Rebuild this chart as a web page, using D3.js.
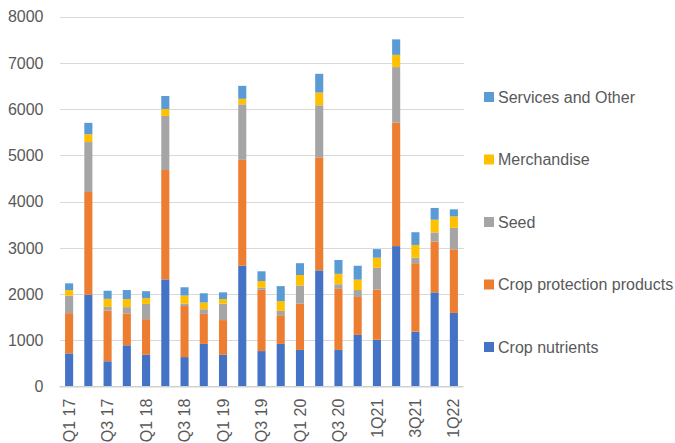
<!DOCTYPE html>
<html>
<head>
<meta charset="utf-8">
<script src="https://cdn.jsdelivr.net/npm/d3@7"></script>
<style>
  html, body { margin: 0; padding: 0; background: #fff; }
  svg { display: block; font-family: "Liberation Sans", Arial, sans-serif; }
  .axis text { fill: #595959; font-size: 16px; }
  .legend text { fill: #595959; font-size: 16px; }
</style>
</head>
<body>
<svg id="chart" width="675" height="443"></svg>
<script>
// Quarterly sales by product line
const quarters = ["Q1 17","Q2 17","Q3 17","Q4 17","Q1 18","Q2 18","Q3 18","Q4 18",
                  "Q1 19","Q2 19","Q3 19","Q4 19","Q1 20","Q2 20","Q3 20","Q4 20",
                  "1Q21","2Q21","3Q21","4Q21","1Q22"];
const cropNutrients   = [720,1990,550,895,690,2320,640,925,690,2615,770,925,795,2515,795,1120,1015,3040,1190,2040,1595];
const cropProtection  = [870,2220,1095,690,770,2365,1105,650,750,2290,1325,620,1000,2445,1320,820,1085,2670,1480,1100,1375];
const seed            = [380,1080,80,135,330,1170,50,100,355,1200,45,95,395,1125,100,150,470,1200,120,195,465];
const merchandise     = [120,170,175,175,125,150,175,145,100,120,145,210,225,275,225,225,220,265,275,275,245];
const servicesOther   = [145,245,175,195,150,280,180,200,145,280,210,325,255,405,300,300,185,335,275,255,155];
const yTicks = [0,1000,2000,3000,4000,5000,6000,7000,8000];

const seriesNames = ["Crop nutrients","Crop protection products","Seed","Merchandise","Services and Other"];
const seriesValues = [cropNutrients, cropProtection, seed, merchandise, servicesOther];
const colors = ["#4472C4","#ED7D31","#A5A5A5","#FFC000","#5B9BD5"];

const rows = quarters.map((q, i) => {
  const r = { quarter: q };
  seriesNames.forEach((s, k) => { r[s] = seriesValues[k][i]; });
  return r;
});

const svg = d3.select("#chart");
const plot = { left: 59.5, right: 463.5, top: 16.7, bottom: 386.7 };

const x = d3.scaleBand()
  .domain(quarters)
  .range([plot.left, plot.right])
  .paddingInner(0.58)
  .paddingOuter(0.29);

const y = d3.scaleLinear()
  .domain([0, 8000])
  .range([plot.bottom, plot.top]);

const color = d3.scaleOrdinal().domain(seriesNames).range(colors);

// horizontal gridlines
svg.append("g")
  .attr("transform", `translate(${plot.left},0)`)
  .call(d3.axisLeft(y).tickValues(yTicks.slice(1)).tickSize(-(plot.right - plot.left)).tickFormat(""))
  .call(g => g.select(".domain").remove())
  .call(g => g.selectAll("line").attr("stroke", "#d9d9d9").attr("stroke-width", 1)
                .attr("shape-rendering", "crispEdges"));

// stacked bars
const stacked = d3.stack().keys(seriesNames)(rows);
svg.append("g")
  .selectAll("g")
  .data(stacked)
  .join("g")
  .attr("fill", d => color(d.key))
  .selectAll("rect")
  .data(d => d)
  .join("rect")
  .attr("x", d => x(d.data.quarter))
  .attr("width", x.bandwidth())
  .attr("y", d => y(d[1]))
  .attr("height", d => y(d[0]) - y(d[1]));

// baseline
svg.append("line")
  .attr("x1", plot.left).attr("x2", plot.right)
  .attr("y1", y(0)).attr("y2", y(0))
  .attr("stroke", "#d0d0d0").attr("stroke-width", 1.5);

// y axis labels
svg.append("g")
  .attr("class", "axis")
  .attr("transform", `translate(${plot.left},0)`)
  .call(d3.axisLeft(y).tickValues(yTicks).tickSize(0).tickPadding(16).tickFormat(d3.format("d")))
  .call(g => g.select(".domain").remove());

// x axis labels (every other quarter), rotated
svg.append("g")
  .attr("class", "axis")
  .attr("transform", `translate(0,${plot.bottom})`)
  .call(d3.axisBottom(x).tickValues(quarters.filter((q, i) => i % 2 === 0)).tickSize(0))
  .call(g => g.select(".domain").remove())
  .call(g => g.selectAll("text")
    .attr("transform", "rotate(-90)")
    .attr("text-anchor", "end")
    .attr("x", -12)
    .attr("y", 0)
    .attr("dy", "0.35em"));

// legend, top entry is the top of the stack
const legendItems = seriesNames.slice().reverse();
const legend = svg.append("g").attr("class", "legend");
const li = legend.selectAll("g")
  .data(legendItems)
  .join("g")
  .attr("transform", (d, i) => `translate(484,${97 + i * 62.5})`);
li.append("rect")
  .attr("x", 0).attr("y", -5).attr("width", 10).attr("height", 10)
  .attr("fill", d => color(d));
li.append("text")
  .attr("x", 14).attr("y", 0).attr("dy", "0.35em")
  .text(d => d);
</script>
</body>
</html>
